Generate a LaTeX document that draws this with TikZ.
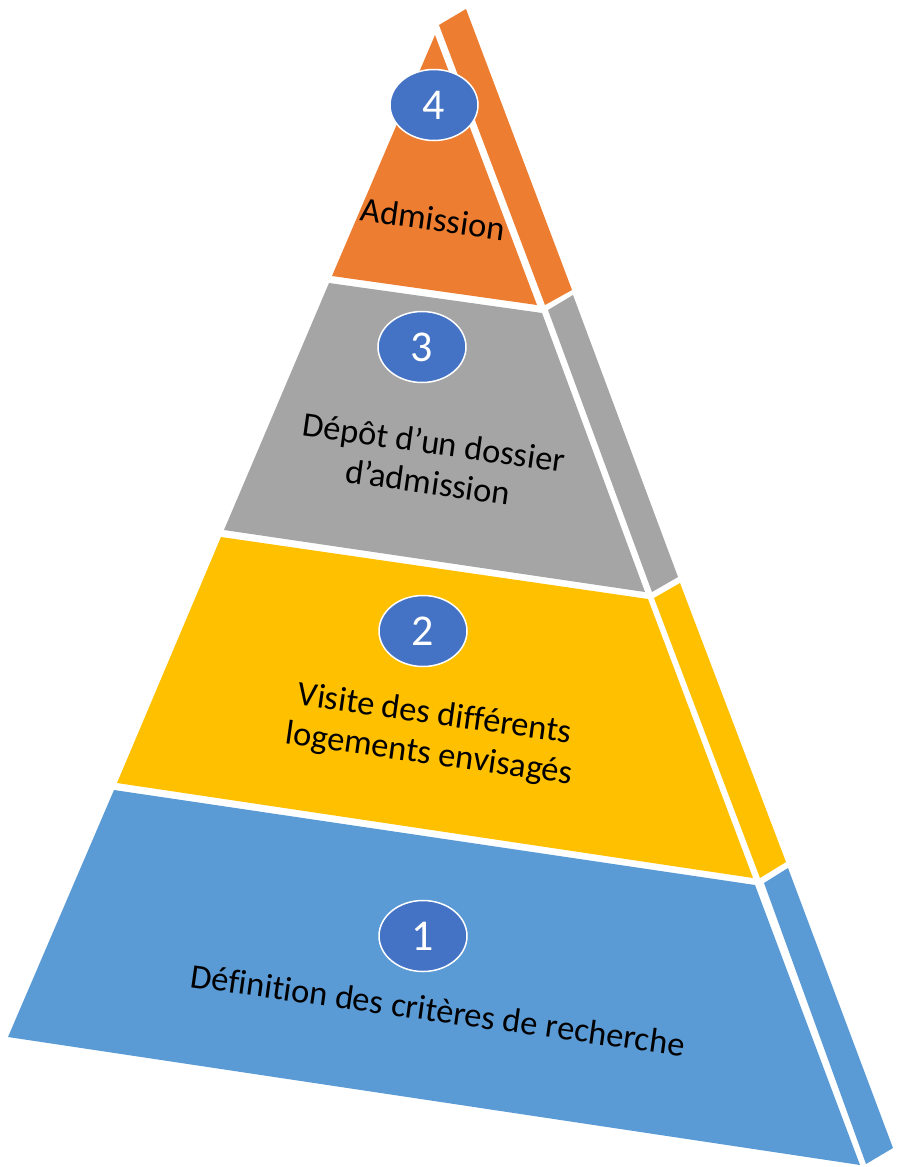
\documentclass[tikz,border=0pt]{standalone}
\usepackage{fontspec}
\setmainfont{Carlito}[Ligatures=NoCommon]
\usetikzlibrary{shapes.geometric}
\definecolor{cOrange}{HTML}{ED7D31}
\definecolor{cGray}{HTML}{A5A5A5}
\definecolor{cYellow}{HTML}{FFC000}
\definecolor{cBlue}{HTML}{5B9BD5}
\definecolor{cBadge}{HTML}{4472C4}
\begin{document}
\begin{tikzpicture}[x=1pt,y=-1pt,
  badge/.style={ellipse,fill=cBadge,draw=white,line width=1.5pt,minimum width=88pt,minimum height=71pt,inner sep=0pt,text=white,font=\fontsize{44}{48}\selectfont},
  steplabel/.style={rotate=-8,align=center,text=black,font=\fontsize{34.5}{40}\selectfont}]
\useasboundingbox (0,0) rectangle (898,1167);
% orange (level 4)
\fill[cOrange] (435,35) -- (537,305) -- (332,276) -- cycle;
\fill[cOrange] (439,25) -- (466,9) -- (572,290) -- (545,305) -- cycle;
% gray (level 3)
\fill[cGray] (329,283) -- (542,313) -- (645,592) -- (224,530) -- cycle;
\fill[cGray] (548,310) -- (573,295) -- (678,577) -- (652,592) -- cycle;
% yellow (level 2)
\fill[cYellow] (221,537) -- (648,599) -- (753,878) -- (117,783) -- cycle;
\fill[cYellow] (654,598) -- (680,583) -- (786,862) -- (760,878) -- cycle;
% blue (level 1)
\fill[cBlue] (114,790) -- (755,885) -- (860,1165) -- (8,1037) -- cycle;
\fill[cBlue] (764,883) -- (788,868) -- (893,1148) -- (866,1164) -- cycle;
% badges
\node[badge] (b4) at (434,105) {4};
\node[badge] (b3) at (422,347) {3};
\node[badge] (b2) at (423,631) {2};
\node[badge] (b1) at (423,936) {1};
% labels
\node[steplabel] (t4) at (433,219) {Admission};
\node[steplabel] (t3) at (431,462) {Dépôt d’un dossier\\d’admission};
\node[steplabel] (t2) at (432,735) {Visite des différents\\logements envisagés};
\node[steplabel] (t1) at (438,1010) {Définition des critères de recherche};
\end{tikzpicture}
\end{document}
